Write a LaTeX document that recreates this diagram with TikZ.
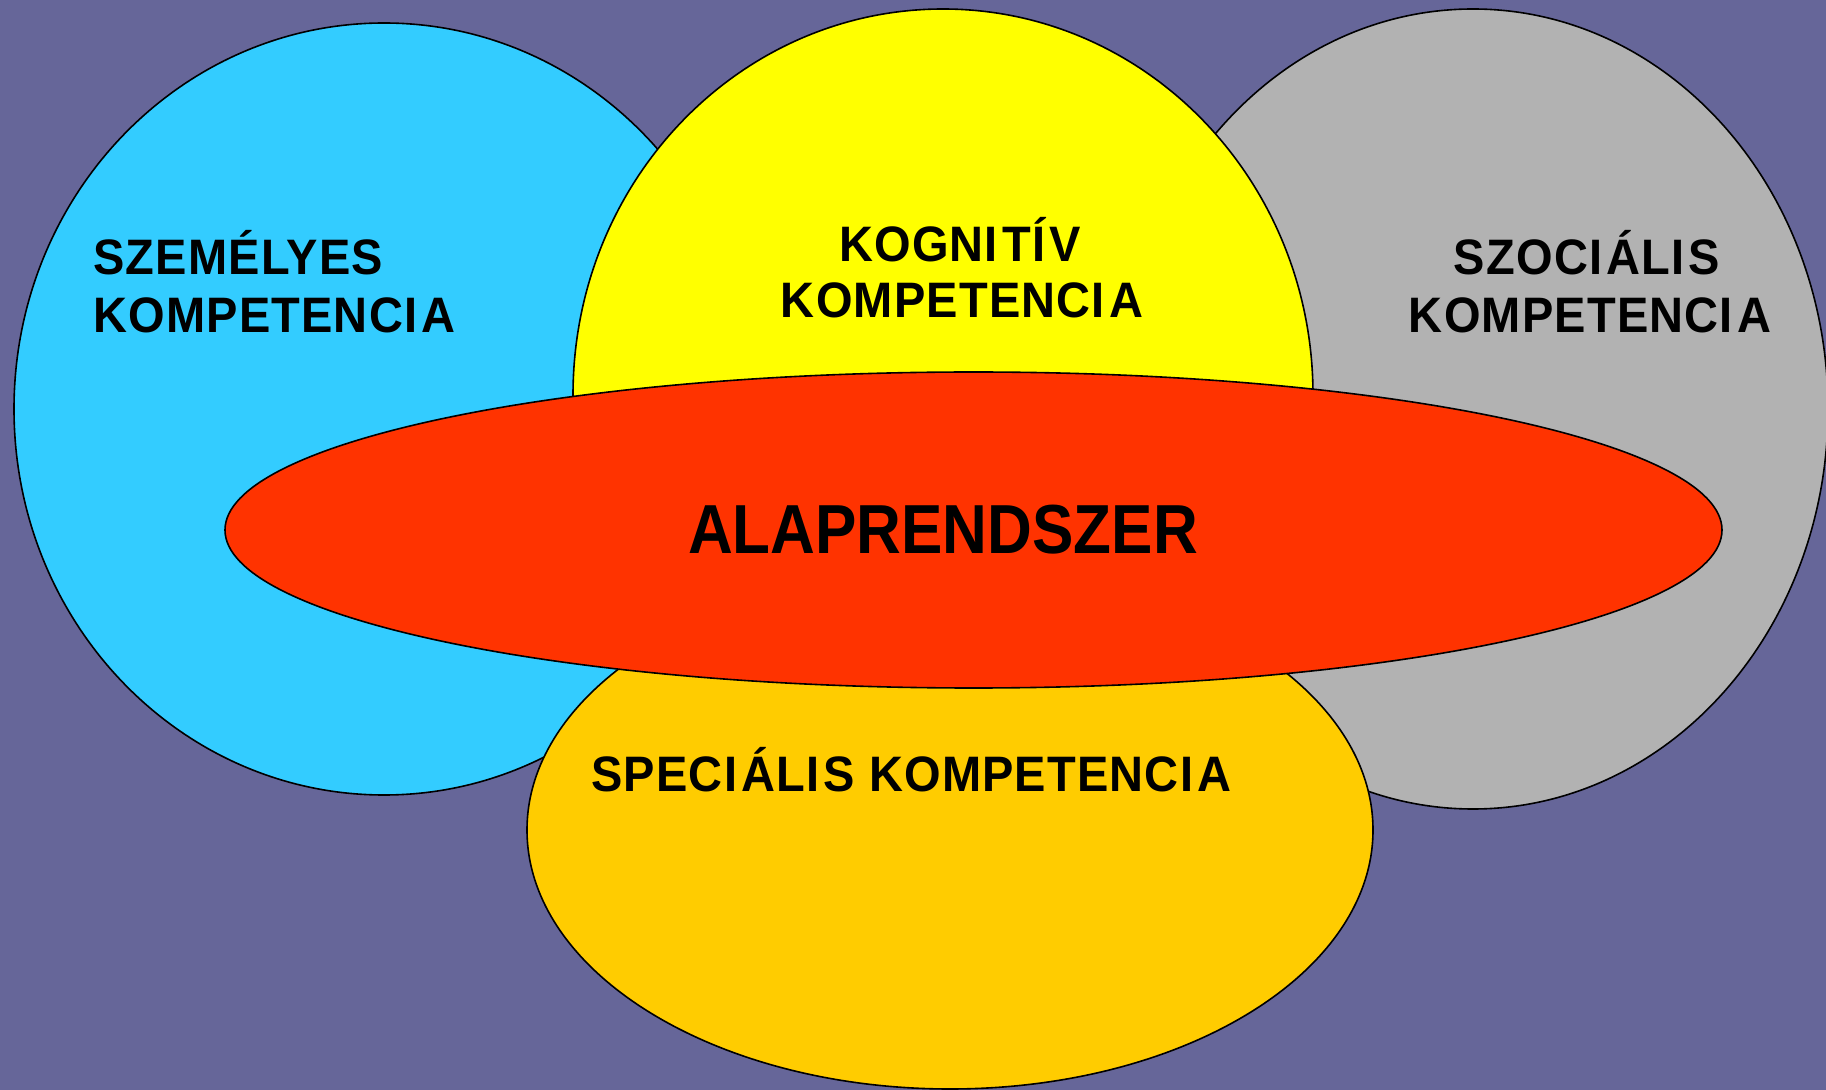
\documentclass[tikz,border=0pt]{standalone}
\usepackage{fontspec}
\setmainfont{Liberation Sans}
\newfontfamily\spacedfont[LetterSpace=2.5]{Liberation Sans}
\usetikzlibrary{shapes.geometric}
\definecolor{bgc}{HTML}{666699}
\definecolor{bluec}{HTML}{33CCFF}
\definecolor{yellowc}{HTML}{FFFF00}
\definecolor{grayc}{HTML}{B2B2B2}
\definecolor{orangec}{HTML}{FFCC00}
\definecolor{redc}{HTML}{FF3300}
\newcommand\Ik{I\kern0.09em}
\newcommand\Iak{Í\kern0.09em}
\newcommand\tall[1]{\scalebox{1}[1.06]{#1}}
\begin{document}
\begin{tikzpicture}[x=0.5pt,y=-0.5pt,
  blob/.style={ellipse,draw=black,line width=0.8pt,inner sep=0pt},
  lab/.style={inner sep=0pt,font=\spacedfont\fontsize{23.5pt}{29pt}\selectfont\bfseries},
  biglab/.style={inner sep=0pt,font=\fontsize{31pt}{36pt}\selectfont\bfseries}]
\useasboundingbox[fill=bgc] (0,0) rectangle (1826,1090);
\node[blob,fill=bluec,minimum width=370pt,minimum height=386pt] (szem) at (384,409) {};
\node[blob,fill=grayc,minimum width=355pt,minimum height=400pt] (szoc) at (1473,409) {};
\node[blob,fill=yellowc,minimum width=370pt,minimum height=386pt] (kogn) at (943,395) {};
\node[blob,fill=orangec,minimum width=423pt,minimum height=259pt] (spec) at (950,830) {};
\node[blob,fill=redc,minimum width=748.5pt,minimum height=158pt] (alap) at (973.5,530) {};
\node[lab,anchor=base west] (t1a) at (93,275) {\tall{SZEMÉLYES}};
\node[lab,anchor=base west] (t1b) at (93,333) {\tall{KOMPETENC\Ik A}};
\node[lab,anchor=base] (t2a) at (960,262) {\tall{KOGN\Ik T\Iak V}};
\node[lab,anchor=base] (t2b) at (962,318) {\tall{KOMPETENC\Ik A}};
\node[lab,anchor=base] (t3a) at (1587,275) {\tall{SZOC\Ik ÁL\Ik S}};
\node[lab,anchor=base] (t3b) at (1590,333) {\tall{KOMPETENC\Ik A}};
\node[lab,anchor=base west] (t4) at (591,791) {\tall{SPEC\Ik ÁL\Ik S KOMPETENC\Ik A}};
\node[biglab,anchor=base] (t5) at (943,554) {\scalebox{1}[1.12]{ALAPRENDSZER}};
\end{tikzpicture}
\end{document}
